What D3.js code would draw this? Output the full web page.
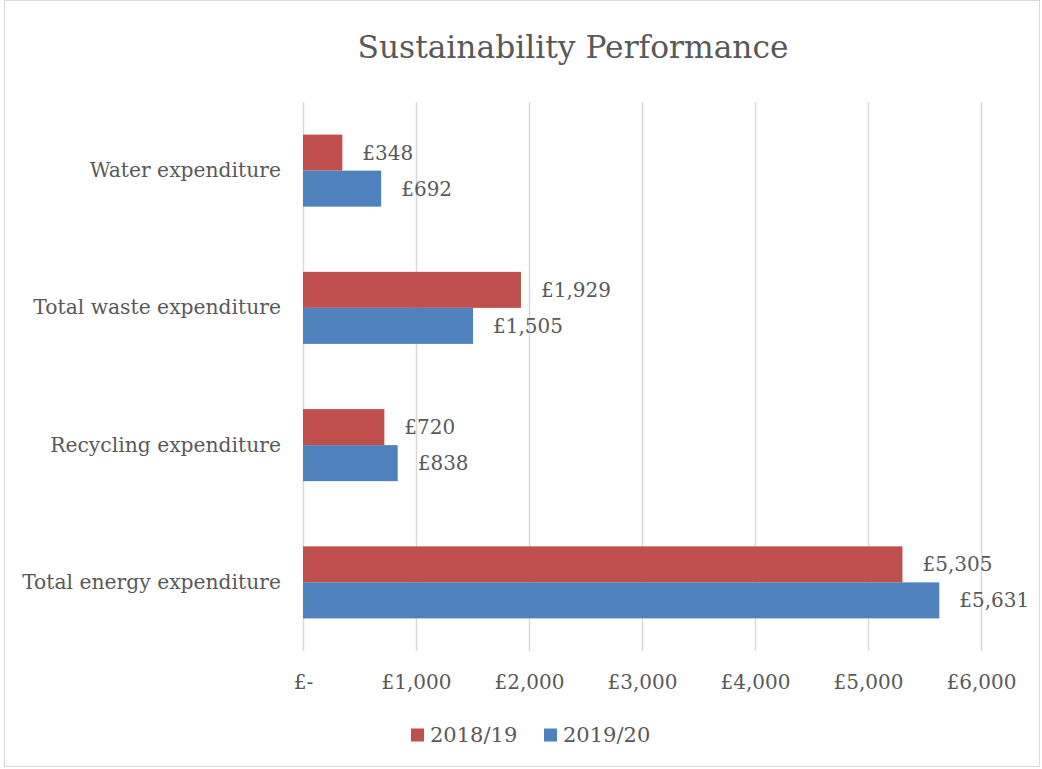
<!DOCTYPE html>
<html>
<head>
<meta charset="utf-8">
<script src="https://cdn.jsdelivr.net/npm/d3@7"></script>
<style>
  body { margin: 0; background: #fff; }
  svg text { font-family: "DejaVu Serif", "Liberation Serif", serif; fill: #595959; }
</style>
</head>
<body>
<div id="chart"></div>
<script>
// data
var categories = ["Water expenditure", "Total waste expenditure", "Recycling expenditure", "Total energy expenditure"];
var seriesNames = ["2018/19", "2019/20"];
var values1819 = [348, 1929, 720, 5305];
var values1920 = [692, 1505, 838, 5631];
var xTicks = [0, 1000, 2000, 3000, 4000, 5000, 6000];
var colors = ["#C0504D", "#4F81BD"];

var seriesValues = [values1819, values1920];
var rows = categories.map(function (c, i) {
  return { cat: c, vals: seriesValues.map(function (s, j) { return { key: seriesNames[j], value: s[i] }; }) };
});

var W = 1042, H = 769;
var margin = { top: 102, right: 61, bottom: 118, left: 303 };
var width = W - margin.left - margin.right,
    height = H - margin.top - margin.bottom;

var svg = d3.select("#chart").append("svg").attr("width", W).attr("height", H);

// chart border
svg.append("rect")
  .attr("x", 4.5).attr("y", 0.5)
  .attr("width", W - 7).attr("height", H - 3)
  .attr("fill", "#fff")
  .attr("stroke", "#D9D9D9");

svg.append("text")
  .attr("x", 573).attr("y", 47)
  .attr("dy", "0.35em")
  .attr("text-anchor", "middle")
  .style("font-size", "31.3px")
  .text("Sustainability Performance");

var g = svg.append("g").attr("transform", "translate(" + margin.left + "," + margin.top + ")");

var x = d3.scaleLinear().domain([0, 6000]).range([0, width]);
var y0 = d3.scaleBand().domain(categories).range([0, height]).padding(0);
var gap = y0.bandwidth() * 0.2375;
var y1 = d3.scaleBand().domain(seriesNames).range([gap, y0.bandwidth() - gap]);

// gridlines
g.append("g").selectAll("line")
  .data(xTicks)
  .enter().append("line")
  .attr("x1", function (d) { return Math.round(x(d)) + 0.5; })
  .attr("x2", function (d) { return Math.round(x(d)) + 0.5; })
  .attr("y1", 0).attr("y2", height)
  .attr("stroke", "#D9D9D9")
  .attr("stroke-width", 1.5);

var xAxis = g.append("g")
  .attr("transform", "translate(0," + height + ")")
  .call(d3.axisBottom(x).tickValues(xTicks).tickSize(0).tickPadding(24)
    .tickFormat(function (d) { return d === 0 ? "£-" : "£" + d3.format(",")(d); }));
xAxis.select(".domain").remove();
xAxis.selectAll("text").style("font-size", "20px").attr("fill", "#595959")
  .attr("font-family", null);

var yAxis = g.append("g")
  .call(d3.axisLeft(y0).tickSize(0).tickPadding(22));
yAxis.select(".domain").remove();
yAxis.selectAll("text").style("font-size", "20.3px").attr("fill", "#595959")
  .attr("font-family", null);

var groups = g.append("g").selectAll("g")
  .data(rows)
  .enter().append("g")
  .attr("transform", function (d) { return "translate(0," + y0(d.cat) + ")"; });

groups.selectAll("rect")
  .data(function (d) { return d.vals; })
  .enter().append("rect")
  .attr("x", x(0))
  .attr("y", function (d) { return y1(d.key); })
  .attr("width", function (d) { return x(d.value) - x(0); })
  .attr("height", y1.bandwidth())
  .attr("fill", function (d, i) { return colors[i]; });

groups.selectAll("text.lbl")
  .data(function (d) { return d.vals; })
  .enter().append("text")
  .attr("class", "lbl")
  .attr("x", function (d) { return x(d.value) + 20; })
  .attr("y", function (d) { return y1(d.key) + y1.bandwidth() / 2; })
  .attr("dy", "0.35em")
  .style("font-size", "20px")
  .text(function (d) { return "£" + d3.format(",")(d.value); });

// legend
var legendX = [411, 544];
var legend = svg.append("g").selectAll("g")
  .data(seriesNames)
  .enter().append("g")
  .attr("transform", function (d, i) { return "translate(" + legendX[i] + ",735)"; });
legend.append("rect")
  .attr("x", 0).attr("y", -6.5)
  .attr("width", 13).attr("height", 13)
  .attr("fill", function (d, i) { return colors[i]; });
legend.append("text")
  .attr("x", 19).attr("dy", "0.35em")
  .style("font-size", "21px")
  .text(function (d) { return d; });
</script>
</body>
</html>
